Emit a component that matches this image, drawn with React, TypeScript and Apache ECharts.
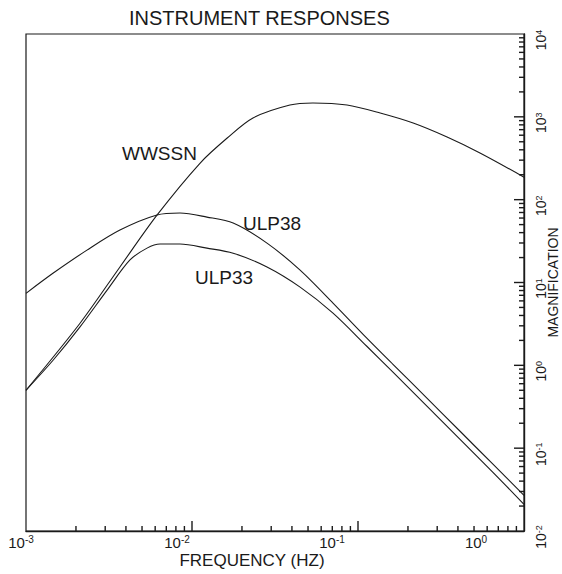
import React, { useEffect, useRef } from "react";
import * as echarts from "echarts";

// Frequency (Hz) and magnification
const freqWWSSN = [0.001, 0.00211, 0.00368, 0.00615, 0.0112, 0.0163, 0.0233, 0.0389, 0.0535, 0.0859, 0.136, 0.215, 0.344, 0.543, 1];
const magWWSSN = [0.5, 3.2, 15.4, 65, 277, 555, 968, 1387, 1469, 1387, 1111, 841, 570, 366, 187];

const freqULP38 = [0.001, 0.00146, 0.00233, 0.00368, 0.00615, 0.00847, 0.0123, 0.0177, 0.0283, 0.0448, 0.0707, 0.113, 0.163, 0.261, 0.412, 0.65, 1];
const magULP38 = [7.4, 13.0, 24.6, 42.9, 65.2, 68.9, 61.6, 52.2, 29.9, 14.1, 5.64, 2.13, 1.02, 0.40, 0.16, 0.064, 0.027];

const freqULP33 = [0.001, 0.00146, 0.00211, 0.00308, 0.00423, 0.00536, 0.00642, 0.00847, 0.0123, 0.0177, 0.0283, 0.0448, 0.0707, 0.113, 0.163, 0.261, 0.412, 0.65, 1];
const magULP33 = [0.5, 1.16, 2.89, 8.09, 18.7, 26.0, 29.1, 29.1, 26.0, 22.6, 15.4, 8.8, 4.27, 1.7, 0.82, 0.32, 0.128, 0.051, 0.021];

const seriesNames = ["WWSSN", "ULP38", "ULP33"];

// axis ranges and tick values
const xMin = 0.001;
const xMax = 1;
const yMin = 0.01;
const yMax = 10000;
const xMajorTicks = [0.01, 0.1];
const yMajorTicks = [0.1, 1, 10, 100, 1000];
const xMinorTicks = [
  0.002, 0.003, 0.004, 0.005, 0.006, 0.007, 0.008, 0.009,
  0.02, 0.03, 0.04, 0.05, 0.06, 0.07, 0.08, 0.09,
  0.2, 0.3, 0.4, 0.5, 0.6, 0.7, 0.8, 0.9,
];
const yMinorTicks = [
  0.02, 0.03, 0.04, 0.05, 0.06, 0.07, 0.08, 0.09,
  0.2, 0.3, 0.4, 0.5, 0.6, 0.7, 0.8, 0.9,
  2, 3, 4, 5, 6, 7, 8, 9,
  20, 30, 40, 50, 60, 70, 80, 90,
  200, 300, 400, 500, 600, 700, 800, 900,
  2000, 3000, 4000, 5000, 6000, 7000, 8000, 9000,
];

const FONT = "Liberation Sans";
const INK = "#1a1a1a";

function pairs(xs: number[], ys: number[]) {
  return xs.map((x, i) => [x, ys[i]]);
}

// horizontal shift (px, to the left) of each x tick label, keyed by exponent
const xLabelShift: Record<string, number> = { "-3": 5, "-2": 15, "-1": 26, "0": 48 };
const styleKey = (e: number) => (e < 0 ? "m" + -e : "p" + e);

export default function App() {
  const ref = useRef<HTMLDivElement>(null);

  useEffect(() => {
    if (!ref.current) return;
    const chart = echarts.init(ref.current, null, { renderer: "svg" });

    const xRich: any = {
      b: { fontFamily: FONT, fontSize: 15, color: INK, lineHeight: 16, verticalAlign: "bottom" },
    };
    Object.keys(xLabelShift).forEach((k) => {
      const e = Number(k);
      xRich[styleKey(e)] = {
        fontFamily: FONT,
        fontSize: 10,
        color: INK,
        lineHeight: 16,
        verticalAlign: "top",
        padding: [0, 2 * xLabelShift[k], 0, 0],
      };
    });

    const yRich: any = {
      b: { fontFamily: FONT, fontSize: 14, color: INK, lineHeight: 14, verticalAlign: "bottom" },
      s: { fontFamily: FONT, fontSize: 9, color: INK, lineHeight: 14, verticalAlign: "top", padding: [0, 12, 0, 0] },
    };

    const lineStyle = { color: INK, width: 1.1 };
    const data = [pairs(freqWWSSN, magWWSSN), pairs(freqULP38, magULP38), pairs(freqULP33, magULP33)];

    // tick marks drawn inward from the bottom (x) and right (y) axes, as thin rect symbols
    const tickSeries = (values: number[], horizontal: boolean, len: number) => ({
      type: "scatter",
      silent: true,
      clip: false,
      data: values.map((v) => (horizontal ? [v, yMin] : [xMax, v])),
      symbol: "rect",
      symbolSize: horizontal ? [1.4, len] : [len, 1.4],
      symbolOffset: horizontal ? [0, -len / 2] : [-len / 2, 0],
      itemStyle: { color: INK, opacity: 1 },
      emphasis: { disabled: true },
      z: 3,
    });

    chart.setOption({
      animation: false,
      backgroundColor: "#ffffff",
      title: {
        text: "INSTRUMENT RESPONSES",
        left: 129,
        top: 8,
        padding: 0,
        textStyle: { fontFamily: FONT, fontSize: 20, fontWeight: "normal", color: INK },
      },
      grid: {
        left: 26,
        right: 38,
        top: 34,
        bottom: 43,
        show: true,
        borderColor: INK,
        borderWidth: 1.2,
        backgroundColor: "transparent",
        containLabel: false,
        outerBoundsMode: "none",
      },
      xAxis: {
        type: "log",
        logBase: 10,
        min: xMin,
        max: xMax,
        name: "FREQUENCY (HZ)",
        nameLocation: "middle",
        nameGap: 21,
        nameMoveOverlap: false,
        nameTextStyle: { fontFamily: FONT, fontSize: 17, color: INK, padding: [0, 46, 0, 0] },
        axisLine: { show: true, lineStyle: { color: INK, width: 1.4 } },
        axisTick: { show: false },
        minorTick: { show: false },
        splitLine: { show: false },
        minorSplitLine: { show: false },
        axisLabel: {
          margin: 3,
          formatter: (v: number) => {
            const e = Math.round(Math.log10(v));
            return "{b|10}{" + styleKey(e) + "|" + e + "}";
          },
          rich: xRich,
        },
      },
      yAxis: {
        type: "log",
        logBase: 10,
        min: yMin,
        max: yMax,
        position: "right",
        name: "MAGNIFICATION",
        nameLocation: "middle",
        nameGap: 22,
        nameRotate: 90,
        nameMoveOverlap: false,
        nameTextStyle: { fontFamily: FONT, fontSize: 14, color: INK },
        axisLine: { show: true, lineStyle: { color: INK, width: 1.4 } },
        axisTick: { show: false },
        minorTick: { show: false },
        splitLine: { show: false },
        minorSplitLine: { show: false },
        axisLabel: {
          margin: 10,
          rotate: 90,
          formatter: (v: number) => {
            const e = Math.round(Math.log10(v));
            return "{b|10}{s|" + e + "}";
          },
          rich: yRich,
        },
      },
      series: [
        ...seriesNames.map((name, i) => ({
          name,
          type: "line",
          data: data[i],
          smooth: 0.3,
          showSymbol: false,
          symbol: "none",
          lineStyle,
        })),
        tickSeries(xMajorTicks, true, 10),
        tickSeries(yMajorTicks, false, 10),
        tickSeries(xMinorTicks, true, 5),
        tickSeries(yMinorTicks, false, 5),
      ],
      graphic: [
        { type: "text", x: 122, y: 153, style: { text: "WWSSN", font: `19px '${FONT}'`, fill: INK, align: "left", verticalAlign: "middle", textAlign: "left", textVerticalAlign: "middle" } },
        { type: "text", x: 243, y: 223, style: { text: "ULP38", font: `19px '${FONT}'`, fill: INK, align: "left", verticalAlign: "middle", textAlign: "left", textVerticalAlign: "middle" } },
        { type: "text", x: 195, y: 277, style: { text: "ULP33", font: `19px '${FONT}'`, fill: INK, align: "left", verticalAlign: "middle", textAlign: "left", textVerticalAlign: "middle" } },
      ],
    });

    return () => chart.dispose();
  }, []);

  return <div ref={ref} style={{ position: "absolute", left: 0, top: 0, width: 562, height: 574 }} />;
}
